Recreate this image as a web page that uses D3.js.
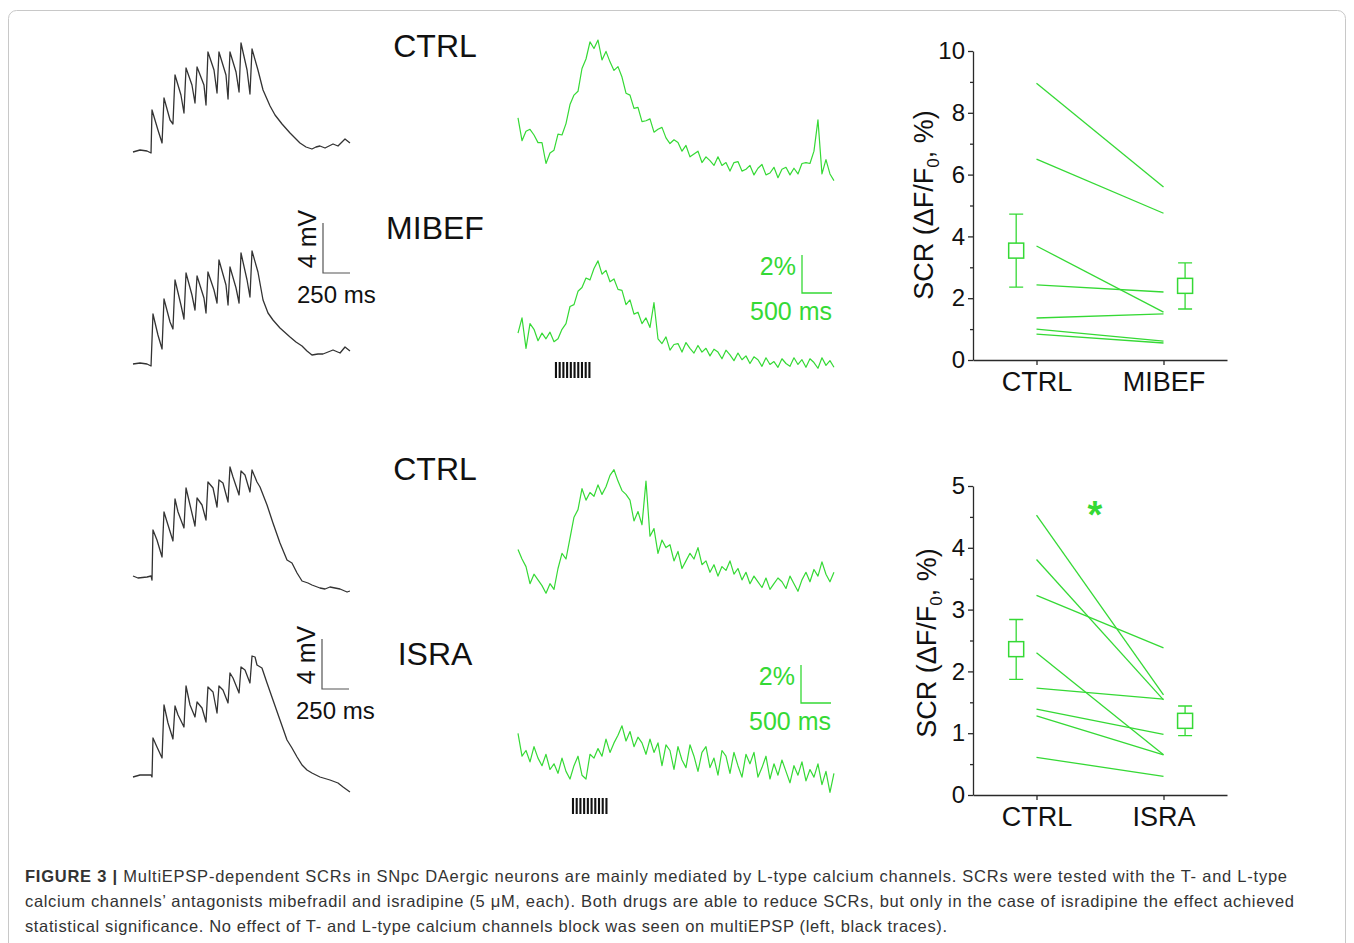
<!DOCTYPE html>
<html>
<head>
<meta charset="utf-8">
<script src="https://cdnjs.cloudflare.com/ajax/libs/d3/7.8.5/d3.min.js"></script>
<style>
  body { margin: 0; background: #fff; }
  svg { display: block; }
  text { font-family: "Liberation Sans", Arial, Helvetica, sans-serif; }
</style>
</head>
<body>
<svg id="fig" width="1354" height="943"></svg>
<script>
// ---- data: multiEPSP traces, [time ms, mV] ----
const epspCtrl1 = [[0,0],[65,0.16],[130,0.08],[167,-0.08],[176,3.36],[231,1.76],[269,0.72],[287,4.32],[343,2.56],[370,2.24],
  [389,6.16],[444,4.56],[472,3.12],[491,6.72],[546,5.36],[574,3.92],[593,6.8],[657,5.36],[676,3.76],[694,8.0],
  [750,6.56],[778,4.72],[796,8.0],[861,6.16],[880,4.24],[898,8.0],[954,6.4],[982,4.8],[1000,8.72],[1056,6.56],
  [1083,4.64],[1102,8.24],[1157,6.56],[1204,4.96],[1269,3.68],[1315,2.96],[1380,2.24],[1454,1.52],[1500,1.12],[1546,0.72],
  [1602,0.4],[1657,0.24],[1694,0.4],[1731,0.48],[1778,0.32],[1852,0.64],[1898,0.48],[1963,1.04],[2009,0.72]];
const epspMibef = [[0,0],[65,0.08],[130,0],[167,-0.16],[185,4.0],[231,2.32],[269,1.2],[287,5.2],[343,3.36],[370,2.8],
  [389,6.72],[444,4.72],[472,3.6],[491,7.28],[546,5.52],[574,4.32],[593,7.04],[657,5.28],[676,4.08],[694,7.36],
  [750,5.92],[778,4.88],[796,8.32],[861,6.32],[880,4.72],[898,7.76],[954,6.08],[982,4.88],[1000,8.88],[1056,6.72],
  [1083,5.36],[1102,9.04],[1157,7.36],[1204,5.12],[1250,4.08],[1296,3.52],[1361,2.88],[1454,2.16],[1509,1.76],[1565,1.44],
  [1611,1.04],[1657,0.72],[1713,0.8],[1759,0.8],[1806,0.96],[1852,1.12],[1917,0.88],[1963,1.36],[2009,1.04]];
const epspCtrl2 = [[0,0.08],[46,-0.08],[130,0],[167,0.08],[176,-0.24],[185,3.76],[222,2.96],[269,1.6],[287,5.2],[324,4.16],
  [370,2.88],[389,6.24],[417,5.2],[472,3.92],[491,7.12],[528,5.76],[574,4.08],[593,6.32],[639,5.76],[676,4.56],
  [694,7.6],[741,7.12],[778,5.6],[796,7.76],[833,7.52],[880,6.0],[898,8.8],[926,8.0],[982,6.56],[1000,8.48],
  [1037,8.16],[1083,6.8],[1102,8.56],[1148,7.6],[1176,7.2],[1241,5.76],[1296,4.32],[1361,2.72],[1426,1.36],[1472,1.12],
  [1519,0.32],[1565,-0.32],[1620,-0.48],[1657,-0.64],[1731,-0.88],[1778,-0.96],[1824,-0.8],[1917,-0.96],[1982,-1.2],[2009,-1.12]];
const epspIsra = [[0,-0.08],[65,0.08],[167,0.08],[176,-0.08],[185,3.04],[222,2.32],[269,1.44],[287,5.68],[324,4.24],[370,2.96],
  [389,5.6],[417,4.88],[472,3.92],[491,7.2],[528,5.68],[574,4.72],[593,5.92],[639,5.44],[676,4.32],[694,7.12],
  [741,6.72],[778,5.04],[796,7.2],[833,6.88],[880,5.84],[898,8.24],[926,7.84],[982,6.64],[1000,8.72],[1037,8.48],
  [1083,7.44],[1102,9.6],[1130,9.52],[1148,8.88],[1194,8.64],[1241,7.44],[1296,6.08],[1361,4.48],[1426,2.88],[1472,2.24],
  [1519,1.52],[1565,0.88],[1611,0.48],[1657,0.24],[1731,-0.08],[1824,-0.32],[1898,-0.56],[1945,-0.88],[2009,-1.28]];

// ---- data: SCR fluorescence traces, dF/F0 % sampled every 66.7 ms ----
const scrDt = 66.7;
const scrCtrl1 = [0.9,-0.3,0.2,0.3,0.0,-0.4,-0.4,-1.5,-0.95,-0.8,
  0.05,0,0.6,1.6,2.1,2.3,3.5,4.0,4.9,4.55,
  5.0,3.95,4.4,3.85,3.4,3.6,3.05,2.2,2.1,1.4,
  1.45,0.7,0.75,0.85,0.15,0.3,0.4,-0.15,-0.45,-0.25,
  -0.4,-0.85,-0.55,-1.15,-1.0,-0.85,-1.45,-1.15,-1.35,-1.6,
  -1.15,-1.6,-1.45,-1.9,-1.45,-1.4,-1.9,-1.8,-1.6,-2.1,
  -1.75,-1.55,-2.1,-2.0,-1.7,-2.25,-1.8,-1.7,-2.1,-1.75,
  -2.05,-1.5,-1.45,-1.5,-0.85,0.8,-2.05,-1.3,-2.05,-2.4];
const scrMibef = [0.1,0.9,-0.7,0.6,0.3,-0.3,0.1,-0.2,0.15,-0.35,
  -0.2,0.3,0.6,1.5,1.6,2.3,2.5,3.0,2.9,3.5,
  3.9,3.2,3.4,2.8,2.95,2.4,2.35,1.6,1.85,1.1,
  1.2,0.6,0.9,0.4,1.7,-0.2,-0.45,-0.1,-0.8,-0.5,
  -0.45,-0.9,-0.4,-0.7,-0.95,-0.55,-0.9,-0.7,-1.1,-0.75,
  -0.9,-1.25,-0.8,-1.05,-1.35,-0.95,-1.3,-1.1,-1.5,-1.15,
  -1.3,-1.65,-1.2,-1.55,-1.4,-1.7,-1.25,-1.5,-1.65,-1.2,
  -1.55,-1.3,-1.7,-1.25,-1.45,-1.75,-1.2,-1.6,-1.35,-1.7];
const scrCtrl2 = [1.5,1.0,0.6,-0.3,0.2,-0.1,-0.4,-0.8,-0.3,-0.6,
  0.5,1.3,1.0,2.1,3.2,3.6,4.7,4.1,4.5,4.3,
  4.9,4.4,4.8,5.4,5.7,5.1,4.6,4.4,4.1,3.0,
  3.5,2.8,5.1,2.2,2.6,1.3,2.0,1.6,1.75,0.9,
  1.4,0.5,0.9,1.3,1.0,1.6,0.7,0.9,0.3,0.7,
  0.1,0.6,0.4,0.9,0.2,0.5,-0.1,0.3,-0.3,0.1,
  -0.2,-0.5,0.0,-0.6,-0.3,0.0,-0.2,-0.55,0.1,-0.3,
  -0.7,-0.1,0.3,-0.2,0.45,0.1,0.85,0.2,-0.2,0.3];
const scrIsra = [1.4,0.2,0.5,-0.1,0.7,0.1,-0.3,0.3,-0.5,-0.2,
  -0.7,0.1,-0.6,-1.0,-0.3,0.2,-0.8,-1.0,0.3,0.1,
  0.6,0.2,1.1,0.4,0.9,1.3,1.8,1.0,1.5,0.7,
  1.2,0.9,0.3,1.1,0.4,0.9,-0.3,0.8,0.5,-0.5,
  0.7,0.0,-0.4,0.8,0.2,-0.6,0.4,0.7,-0.4,0.1,
  -0.8,0.5,0.2,-0.7,0.4,-0.3,-0.9,0.3,-0.2,0.4,
  -0.9,-0.4,0.2,-1.0,-0.2,-0.8,0.0,-0.6,-1.2,-0.3,
  -0.8,-0.1,-1.1,-0.5,-0.9,-0.2,-1.3,-0.6,-1.7,-0.7];

// stimulation pulses (ms, on the SCR time axis)
const stimMibef = [633, 695, 757, 819, 881, 943, 1005, 1067, 1129, 1191];
const stimIsra = [917, 979, 1041, 1103, 1165, 1227, 1289, 1351, 1413, 1475];

// ---- data: paired SCR amplitudes (dF/F0 %) ----
const mibefConds = ['CTRL', 'MIBEF'];
const mibefCtrl = [8.96, 6.5, 3.69, 2.43, 1.36, 1.0, 0.84];
const mibefDrug = [5.6, 4.75, 1.55, 2.2, 1.49, 0.61, 0.55];
const mibefMean = [3.54, 2.40];
const mibefLow = [2.36, 1.65];
const mibefHigh = [4.72, 3.14];

const israConds = ['CTRL', 'ISRA'];
const israCtrl = [4.53, 3.81, 3.23, 2.30, 1.73, 1.39, 1.28, 0.61];
const israDrug = [1.62, 1.54, 2.38, 0.65, 1.55, 0.98, 0.65, 0.30];
const israMean = [2.36, 1.20];
const israLow = [1.87, 0.96];
const israHigh = [2.84, 1.44];

const mibefTicks = [0, 2, 4, 6, 8, 10];
const mibefMinor = [1, 3, 5, 7, 9];
const israTicks = [0, 1, 2, 3, 4, 5];
const israMinor = [0.5, 1.5, 2.5, 3.5, 4.5];

const captionLines = [
  'MultiEPSP-dependent SCRs in SNpc DAergic neurons are mainly mediated by L-type calcium channels. SCRs were tested with the T- and L-type',
  'calcium channels\u2019 antagonists mibefradil and isradipine (5 \u03bcM, each). Both drugs are able to reduce SCRs, but only in the case of isradipine the effect achieved',
  'statistical significance. No effect of T- and L-type calcium channels block was seen on multiEPSP (left, black traces).'
];

// ---- drawing ----
const svg = d3.select('#fig');
const GREEN = '#35d935';
const INK = '#2a2a2a';

svg.append('rect')
  .attr('x', 8.5).attr('y', 10.5).attr('width', 1337).attr('height', 960)
  .attr('rx', 8).attr('fill', '#fff').attr('stroke', '#c8c8c8').attr('stroke-width', 1);

function trace(data, xs, ys, color, w) {
  svg.append('path').datum(data)
    .attr('fill', 'none').attr('stroke', color).attr('stroke-width', w)
    .attr('stroke-linejoin', 'round')
    .attr('d', d3.line().x(d => xs(d[0])).y(d => ys(d[1])));
}

// black multiEPSP panels
const epspX = d3.scaleLinear().domain([0, 2000]).range([133, 349]);
const epspPanels = [
  { data: epspCtrl1, y0: 152, label: 'CTRL', labelY: 57 },
  { data: epspMibef, y0: 364, label: 'MIBEF', labelY: 239, bar: { x: 323, y: 273 } },
  { data: epspCtrl2, y0: 577, label: 'CTRL', labelY: 480 },
  { data: epspIsra, y0: 776, label: 'ISRA', labelY: 665, bar: { x: 322, y: 689 } }
];
epspPanels.forEach(p => {
  const ys = d3.scaleLinear().domain([0, 4]).range([p.y0, p.y0 - 50]);
  trace(p.data, epspX, ys, '#333', 1.3);
  svg.append('text').attr('x', 435).attr('y', p.labelY)
    .attr('text-anchor', 'middle').style('font-size', '32px').attr('fill', '#111').text(p.label);
  if (p.bar) {
    const h = ys(0) - ys(4), w = epspX(250) - epspX(0);
    svg.append('path')
      .attr('d', `M${p.bar.x},${p.bar.y - h}V${p.bar.y}H${p.bar.x + w}`)
      .attr('fill', 'none').attr('stroke', '#555').attr('stroke-width', 1.2);
    svg.append('text').attr('transform', `translate(${p.bar.x - 7},${p.bar.y - 34}) rotate(-90)`)
      .attr('text-anchor', 'middle').style('font-size', '25px').attr('fill', '#111').text('4 mV');
    svg.append('text').attr('x', p.bar.x - 26).attr('y', p.bar.y + 30)
      .style('font-size', '24px').attr('fill', '#111').text('250 ms');
  }
});

// green SCR panels
const scrX = d3.scaleLinear().domain([0, 5270]).range([518, 834]);
const scrPanels = [
  { data: scrCtrl1, y0: 135 },
  { data: scrMibef, y0: 335, bar: { x: 802, y: 293 }, stim: stimMibef, stimY: 362 },
  { data: scrCtrl2, y0: 578 },
  { data: scrIsra, y0: 760, bar: { x: 801, y: 703 }, stim: stimIsra, stimY: 798 }
];
scrPanels.forEach(p => {
  const ys = d3.scaleLinear().domain([0, 1]).range([p.y0, p.y0 - 19]);
  trace(p.data.map((v, i) => [i * scrDt, v]), scrX, ys, GREEN, 1.2);
  if (p.bar) {
    const h = ys(0) - ys(2), w = scrX(500) - scrX(0);
    svg.append('path')
      .attr('d', `M${p.bar.x},${p.bar.y - h}V${p.bar.y}H${p.bar.x + w}`)
      .attr('fill', 'none').attr('stroke', GREEN).attr('stroke-width', 1.3);
    svg.append('text').attr('x', p.bar.x - 6).attr('y', p.bar.y - 18)
      .attr('text-anchor', 'end').style('font-size', '25px').attr('fill', GREEN).text('2%');
    svg.append('text').attr('x', p.bar.x + w).attr('y', p.bar.y + 27)
      .attr('text-anchor', 'end').style('font-size', '25px').attr('fill', GREEN).text('500 ms');
  }
  if (p.stim) {
    svg.append('g').selectAll('line').data(p.stim).join('line')
      .attr('x1', d => scrX(d)).attr('x2', d => scrX(d))
      .attr('y1', p.stimY).attr('y2', p.stimY + 16)
      .attr('stroke', '#111').attr('stroke-width', 2.1);
  }
});

// paired plots
function pairedPlot(cfg) {
  const x = d3.scaleLinear().domain([0.5, 2.5]).range([973, 1227]);
  const y = d3.scaleLinear().domain(cfg.domain).range([cfg.bottom, cfg.bottom - 309]);
  const g = svg.append('g');

  g.selectAll('line.pair').data(cfg.ctrl).join('line').attr('class', 'pair')
    .attr('x1', x(1)).attr('x2', x(2))
    .attr('y1', d => y(d)).attr('y2', (d, i) => y(cfg.drug[i]))
    .attr('stroke', GREEN).attr('stroke-width', 1.3);

  const offs = [-0.16, 0.17];
  cfg.mean.forEach((m, i) => {
    const cx = x(i + 1 + offs[i]);
    g.append('path')
      .attr('d', `M${cx - 7},${y(cfg.high[i])}H${cx + 7}M${cx},${y(cfg.high[i])}V${y(cfg.low[i])}M${cx - 7},${y(cfg.low[i])}H${cx + 7}`)
      .attr('fill', 'none').attr('stroke', GREEN).attr('stroke-width', 1.3);
    g.append('rect').attr('x', cx - 7.5).attr('y', y(m) - 7.5).attr('width', 15).attr('height', 15)
      .attr('fill', '#fff').attr('stroke', GREEN).attr('stroke-width', 1.5);
  });

  const yAxis = g.append('g').attr('transform', `translate(${x(0.5)},0)`)
    .call(d3.axisLeft(y).tickValues(cfg.ticks).tickFormat(d3.format('d')).tickSize(5).tickPadding(3).tickSizeOuter(0));
  const yMinor = g.append('g').attr('transform', `translate(${x(0.5)},0)`)
    .call(d3.axisLeft(y).tickValues(cfg.minor).tickSize(3).tickFormat('').tickSizeOuter(0));
  yMinor.select('.domain').remove();
  const xAxis = g.append('g').attr('transform', `translate(0,${cfg.bottom})`)
    .call(d3.axisBottom(x).tickValues([1, 2]).tickFormat((d, i) => cfg.conds[i]).tickSize(5).tickPadding(7).tickSizeOuter(0));
  [yAxis, yMinor, xAxis].forEach(a => {
    a.selectAll('path, line').attr('stroke', INK).attr('stroke-width', 1.3);
    a.selectAll('text').attr('fill', '#111').style('font-family', '"Liberation Sans", Arial, sans-serif');
  });
  yAxis.selectAll('text').style('font-size', '24px');
  xAxis.selectAll('text').style('font-size', '27px');

  const lab = g.append('text')
    .attr('transform', `translate(${cfg.labelX},${cfg.labelY}) rotate(-90)`)
    .attr('text-anchor', 'middle').style('font-size', '27px').attr('fill', '#111');
  lab.append('tspan').text('SCR (\u0394F/F');
  lab.append('tspan').attr('dy', 6).style('font-size', '17px').text('0');
  lab.append('tspan').attr('dy', -6).text(',  %)');

  if (cfg.star) {
    g.append('text').attr('x', x(cfg.star[0])).attr('y', y(cfg.star[1]))
      .attr('text-anchor', 'middle').style('font-size', '38px').style('font-weight', 'bold')
      .attr('fill', GREEN).text('*');
  }
}

pairedPlot({ conds: mibefConds, ctrl: mibefCtrl, drug: mibefDrug, mean: mibefMean, low: mibefLow, high: mibefHigh,
  domain: [0, 10], bottom: 360, ticks: mibefTicks, minor: mibefMinor, labelX: 933, labelY: 205 });
pairedPlot({ conds: israConds, ctrl: israCtrl, drug: israDrug, mean: israMean, low: israLow, high: israHigh,
  domain: [0, 5], bottom: 795, ticks: israTicks, minor: israMinor, labelX: 936, labelY: 643, star: [1.46, 4.32] });

// caption
const capY = [882, 907, 932];
const capW = [1262, 1269, 922];
captionLines.forEach((line, i) => {
  const t = svg.append('text').attr('x', 25).attr('y', capY[i])
    .attr('textLength', capW[i]).attr('lengthAdjust', 'spacing')
    .style('font-size', '16.5px').attr('fill', '#333');
  if (i === 0) {
    t.append('tspan').style('font-weight', 'bold').text('FIGURE 3 | ');
  }
  t.append('tspan').text(line);
});
</script>
</body>
</html>
